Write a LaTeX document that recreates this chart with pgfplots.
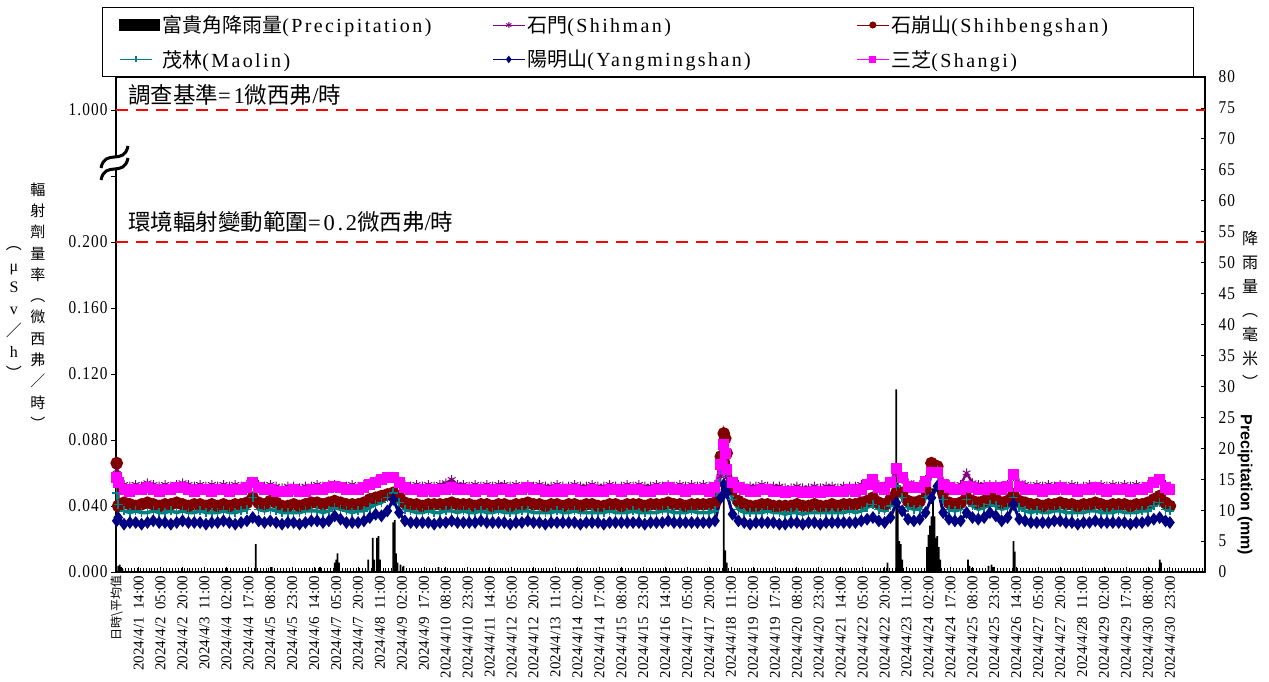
\documentclass[border=0pt]{standalone}
\usepackage{fontspec}
\setmainfont{Liberation Serif}
\newfontfamily\cjk{Noto Sans CJK TC}
\newfontfamily\ming{Liberation Serif}[LetterSpace=12]
\newfontfamily\narrow{Liberation Serif}[FakeStretch=0.85, LetterSpace=6]
\newfontfamily\arial{Liberation Sans}
\usepackage{pgfplots}
\usepackage{pgfplotstable}
\pgfplotsset{compat=1.18}

\newcommand{\fs}[1]{\fontsize{#1}{#1}\selectfont}
\newcommand{\fsb}[2]{\fontsize{#1}{#2}\selectfont}

\definecolor{cShihman}{RGB}{128,0,128}
\definecolor{cShihbeng}{RGB}{128,0,0}
\definecolor{cMaolin}{RGB}{0,128,128}
\definecolor{cYang}{RGB}{0,0,128}
\definecolor{cShangi}{RGB}{255,0,255}

% hourly dose rate (uSv/h), hour 0 = 2024/4/1 00:00, read every ~4 h
% S=Shihman B=Shihbengshan M=Maolin Y=Yangmingshan G=Shangi
\pgfplotstableread{
x S B M Y G
-1 0.062 0.066 0.048 0.031 0.057
0 0.056 0.040 0.041 0.033 0.054
4 0.053 0.042 0.037 0.029 0.050
8 0.052 0.041 0.036 0.030 0.049
12 0.053 0.040 0.037 0.030 0.050
16 0.052 0.041 0.036 0.029 0.050
20 0.054 0.042 0.036 0.030 0.051
24 0.053 0.041 0.037 0.031 0.050
28 0.052 0.040 0.036 0.030 0.049
32 0.053 0.041 0.036 0.030 0.050
36 0.052 0.041 0.037 0.029 0.050
40 0.053 0.042 0.036 0.030 0.051
44 0.054 0.041 0.037 0.031 0.051
48 0.053 0.040 0.036 0.030 0.050
52 0.052 0.041 0.036 0.030 0.049
56 0.053 0.041 0.037 0.030 0.050
60 0.052 0.040 0.036 0.029 0.050
64 0.053 0.041 0.036 0.030 0.049
68 0.052 0.040 0.036 0.030 0.050
72 0.053 0.041 0.037 0.031 0.050
76 0.052 0.040 0.036 0.030 0.049
80 0.053 0.041 0.036 0.029 0.050
84 0.052 0.041 0.037 0.030 0.050
88 0.053 0.042 0.038 0.031 0.051
92 0.055 0.045 0.045 0.033 0.054
96 0.053 0.042 0.038 0.031 0.051
100 0.052 0.041 0.037 0.030 0.050
104 0.053 0.043 0.038 0.031 0.050
108 0.052 0.042 0.037 0.030 0.049
112 0.051 0.040 0.036 0.029 0.049
116 0.052 0.040 0.036 0.030 0.049
120 0.052 0.041 0.036 0.030 0.050
124 0.051 0.040 0.036 0.029 0.049
128 0.052 0.041 0.037 0.030 0.049
132 0.052 0.042 0.037 0.031 0.050
136 0.053 0.042 0.037 0.031 0.050
140 0.052 0.041 0.036 0.030 0.050
144 0.053 0.042 0.037 0.031 0.051
148 0.053 0.043 0.039 0.034 0.052
152 0.052 0.042 0.038 0.032 0.051
156 0.052 0.041 0.037 0.030 0.050
160 0.053 0.041 0.036 0.030 0.050
164 0.052 0.041 0.037 0.030 0.050
168 0.053 0.042 0.037 0.031 0.051
172 0.054 0.044 0.039 0.033 0.053
176 0.055 0.045 0.041 0.035 0.054
180 0.056 0.046 0.042 0.034 0.056
184 0.057 0.047 0.045 0.037 0.057
188 0.058 0.048 0.048 0.044 0.057
192 0.055 0.046 0.042 0.036 0.054
196 0.053 0.042 0.038 0.031 0.051
200 0.052 0.041 0.037 0.030 0.050
204 0.053 0.041 0.036 0.030 0.050
208 0.052 0.040 0.036 0.030 0.049
212 0.053 0.041 0.037 0.030 0.050
216 0.052 0.041 0.036 0.029 0.049
220 0.053 0.041 0.036 0.030 0.050
224 0.054 0.041 0.037 0.030 0.050
228 0.056 0.042 0.037 0.031 0.051
232 0.053 0.041 0.036 0.030 0.050
236 0.053 0.041 0.037 0.030 0.050
240 0.052 0.041 0.036 0.030 0.050
244 0.053 0.040 0.036 0.030 0.049
248 0.052 0.041 0.037 0.031 0.050
252 0.053 0.041 0.036 0.030 0.050
256 0.052 0.040 0.036 0.030 0.049
260 0.053 0.041 0.037 0.030 0.050
264 0.053 0.041 0.036 0.030 0.050
268 0.052 0.040 0.036 0.029 0.049
272 0.053 0.041 0.036 0.030 0.050
276 0.052 0.041 0.037 0.030 0.050
280 0.053 0.042 0.037 0.031 0.051
284 0.052 0.041 0.036 0.030 0.050
288 0.053 0.041 0.036 0.030 0.050
292 0.052 0.040 0.036 0.029 0.049
296 0.052 0.041 0.036 0.030 0.049
300 0.053 0.041 0.037 0.030 0.050
304 0.052 0.040 0.036 0.030 0.049
308 0.052 0.041 0.036 0.030 0.050
312 0.053 0.041 0.037 0.030 0.050
316 0.052 0.040 0.036 0.029 0.049
320 0.052 0.041 0.036 0.030 0.049
324 0.053 0.041 0.036 0.030 0.050
328 0.052 0.040 0.036 0.030 0.049
332 0.052 0.040 0.036 0.029 0.049
336 0.053 0.041 0.037 0.030 0.050
340 0.052 0.041 0.036 0.030 0.050
344 0.052 0.040 0.036 0.030 0.049
348 0.053 0.041 0.036 0.030 0.050
352 0.052 0.041 0.037 0.030 0.050
356 0.053 0.041 0.036 0.030 0.050
360 0.052 0.040 0.036 0.029 0.049
364 0.052 0.041 0.036 0.030 0.049
368 0.053 0.041 0.036 0.030 0.050
372 0.052 0.041 0.037 0.030 0.050
376 0.053 0.042 0.037 0.031 0.051
380 0.052 0.041 0.036 0.030 0.050
384 0.053 0.041 0.036 0.030 0.050
388 0.052 0.040 0.036 0.030 0.049
392 0.053 0.041 0.037 0.030 0.050
396 0.052 0.041 0.036 0.030 0.050
400 0.053 0.041 0.036 0.030 0.050
404 0.052 0.041 0.036 0.030 0.049
408 0.053 0.042 0.037 0.031 0.051
412 0.058 0.070 0.062 0.045 0.065
414 0.062 0.084 0.074 0.053 0.077
415 0.060 0.081 0.070 0.050 0.072
416 0.057 0.072 0.060 0.048 0.062
420 0.055 0.050 0.044 0.035 0.054
424 0.053 0.043 0.038 0.031 0.051
428 0.052 0.041 0.036 0.030 0.050
432 0.052 0.040 0.036 0.029 0.049
436 0.052 0.040 0.036 0.030 0.049
440 0.053 0.041 0.036 0.030 0.050
444 0.052 0.041 0.037 0.030 0.050
448 0.052 0.040 0.036 0.030 0.049
452 0.052 0.040 0.036 0.029 0.049
456 0.051 0.040 0.035 0.029 0.048
460 0.051 0.040 0.036 0.030 0.049
464 0.052 0.041 0.036 0.030 0.049
468 0.051 0.040 0.035 0.029 0.048
472 0.051 0.040 0.036 0.030 0.048
476 0.052 0.041 0.036 0.030 0.049
480 0.051 0.040 0.036 0.029 0.048
484 0.052 0.040 0.036 0.030 0.049
488 0.052 0.041 0.036 0.030 0.049
492 0.051 0.040 0.036 0.030 0.049
496 0.052 0.041 0.036 0.030 0.049
500 0.052 0.041 0.037 0.030 0.050
504 0.052 0.041 0.036 0.030 0.049
508 0.053 0.042 0.037 0.031 0.050
512 0.054 0.043 0.039 0.032 0.053
516 0.056 0.045 0.041 0.033 0.056
520 0.053 0.042 0.038 0.031 0.051
524 0.052 0.041 0.037 0.030 0.050
528 0.054 0.044 0.040 0.033 0.054
532 0.060 0.048 0.052 0.042 0.063
536 0.056 0.048 0.045 0.037 0.057
540 0.054 0.043 0.039 0.032 0.052
544 0.053 0.042 0.038 0.031 0.051
548 0.053 0.043 0.038 0.032 0.051
552 0.056 0.050 0.045 0.036 0.055
556 0.062 0.066 0.060 0.045 0.060
560 0.060 0.064 0.062 0.052 0.060
564 0.055 0.048 0.044 0.036 0.053
568 0.053 0.042 0.038 0.032 0.051
572 0.052 0.041 0.037 0.031 0.050
576 0.053 0.042 0.038 0.031 0.050
580 0.060 0.045 0.044 0.036 0.052
584 0.054 0.043 0.040 0.033 0.051
588 0.053 0.042 0.038 0.032 0.050
592 0.053 0.043 0.039 0.033 0.050
596 0.053 0.045 0.041 0.036 0.051
600 0.053 0.044 0.040 0.034 0.051
604 0.052 0.042 0.038 0.031 0.050
608 0.053 0.043 0.039 0.033 0.052
612 0.058 0.047 0.045 0.041 0.059
616 0.054 0.043 0.039 0.032 0.052
620 0.053 0.042 0.037 0.031 0.050
624 0.052 0.041 0.036 0.030 0.050
628 0.053 0.041 0.037 0.030 0.050
632 0.052 0.040 0.036 0.030 0.049
636 0.053 0.041 0.036 0.030 0.050
640 0.052 0.041 0.037 0.031 0.050
644 0.053 0.042 0.037 0.031 0.051
648 0.052 0.041 0.036 0.030 0.050
652 0.053 0.041 0.036 0.030 0.050
656 0.052 0.040 0.036 0.029 0.049
660 0.052 0.041 0.036 0.030 0.050
664 0.053 0.041 0.037 0.030 0.050
668 0.052 0.042 0.037 0.031 0.051
672 0.053 0.041 0.036 0.030 0.050
676 0.052 0.040 0.036 0.030 0.049
680 0.053 0.041 0.036 0.030 0.050
684 0.052 0.041 0.037 0.030 0.050
688 0.053 0.041 0.036 0.030 0.050
692 0.052 0.040 0.036 0.029 0.049
696 0.053 0.041 0.036 0.030 0.050
700 0.052 0.041 0.037 0.030 0.050
704 0.053 0.042 0.037 0.031 0.051
708 0.055 0.044 0.040 0.032 0.054
712 0.056 0.046 0.042 0.033 0.056
716 0.053 0.042 0.038 0.031 0.051
719 0.052 0.040 0.037 0.030 0.050
}\radtab

% hourly rain at Fuguijiao (mm), only the hours with rain
\pgfplotstableread{
x R
0 1.0
1 1.2
2 0.8
3 0.5
94 4.5
105 0.8
138 0.8
148 1.5
149 2.0
150 3.0
151 1.5
171 2.0
174 5.5
175 2.0
177 5.5
178 5.8
179 2.0
188 8.0
189 8.4
190 3.0
191 1.5
193 1.2
195 1.0
219 0.8
414 12.0
415 3.5
416 1.5
526 1.5
532 29.5
533 17.5
534 5.0
535 4.5
536 2.0
553 4.0
554 6.0
555 7.5
556 9.0
557 13.5
558 9.0
559 5.5
560 5.8
561 4.0
562 2.0
581 2.0
582 1.0
595 1.0
597 1.2
598 0.8
612 5.0
613 3.3
712 2.0
713 1.5
}\raintab

\begin{document}
\begin{tikzpicture}

% rain, right axis
\begin{axis}[
    at={(0pt,0pt)}, anchor=south west,
    scale only axis, width=1089pt, height=495pt,
    xmin=-1.5, xmax=743, ymin=0, ymax=80,
    axis x line=none, axis y line*=right,
    axis line style={line width=1.2pt},
    tick align=inside, major tick length=4pt,
    tick style={black, line width=0.8pt},
    ytick={0,5,10,15,20,25,30,35,40,45,50,55,60,65,70,75,80},
    yticklabels={0,5,10,15,20,25,30,35,40,45,50,55,60,65,70,75,80},
    yticklabel style={font=\narrow\fs{18}, anchor=west, xshift=10pt},
]
\addplot[ybar, bar width=1.2, fill=black, draw=none] table[x=x, y=R] {\raintab};
\end{axis}

% dose rate, left axis (0.24 is the break, 0.28 stands for 1.000)
\begin{axis}[
    at={(0pt,0pt)}, anchor=south west,
    scale only axis, width=1089pt, height=495pt,
    xmin=-1.5, xmax=743, ymin=0, ymax=0.3,
    axis line style={line width=1.2pt},
    xtick pos=bottom, ytick pos=left,
    xtick align=inside, ytick align=outside,
    major tick length=5pt, minor tick length=4pt,
    tick style={black, line width=0.8pt},
    ytick={0,0.04,0.08,0.12,0.16,0.2,0.24,0.28},
    yticklabels={0.000,0.040,0.080,0.120,0.160,0.200,{},1.000},
    yticklabel style={font=\narrow\fs{18}},
    xtick={-1,14,...,719},
    minor xtick={1,3,...,741},
    xticklabels={
        {\cjk\fs{12}日時\textbackslash 平均值},
        2024/4/1\enspace 14:00, 2024/4/2\enspace 05:00, 2024/4/2\enspace 20:00,
        2024/4/3\enspace 11:00, 2024/4/4\enspace 02:00, 2024/4/4\enspace 17:00,
        2024/4/5\enspace 08:00, 2024/4/5\enspace 23:00, 2024/4/6\enspace 14:00,
        2024/4/7\enspace 05:00, 2024/4/7\enspace 20:00, 2024/4/8\enspace 11:00,
        2024/4/9\enspace 02:00, 2024/4/9\enspace 17:00, 2024/4/10\enspace 08:00,
        2024/4/10\enspace 23:00, 2024/4/11\enspace 14:00, 2024/4/12\enspace 05:00,
        2024/4/12\enspace 20:00, 2024/4/13\enspace 11:00, 2024/4/14\enspace 02:00,
        2024/4/14\enspace 17:00, 2024/4/15\enspace 08:00, 2024/4/15\enspace 23:00,
        2024/4/16\enspace 14:00, 2024/4/17\enspace 05:00, 2024/4/17\enspace 20:00,
        2024/4/18\enspace 11:00, 2024/4/19\enspace 02:00, 2024/4/19\enspace 17:00,
        2024/4/20\enspace 08:00, 2024/4/20\enspace 23:00, 2024/4/21\enspace 14:00,
        2024/4/22\enspace 05:00, 2024/4/22\enspace 20:00, 2024/4/23\enspace 11:00,
        2024/4/24\enspace 02:00, 2024/4/24\enspace 17:00, 2024/4/25\enspace 08:00,
        2024/4/25\enspace 23:00, 2024/4/26\enspace 14:00, 2024/4/27\enspace 05:00,
        2024/4/27\enspace 20:00, 2024/4/28\enspace 11:00, 2024/4/29\enspace 02:00,
        2024/4/29\enspace 17:00, 2024/4/30\enspace 08:00, 2024/4/30\enspace 23:00},
    xticklabel style={font=\fs{15}, rotate=90, anchor=east},
    legend columns=3,
    legend cell align=left,
    legend image code/.code={
        \draw[mark repeat=2, mark phase=2, #1, line width=1pt, mark size=3pt]
            plot coordinates {(0pt,0pt) (16pt,0pt) (32pt,0pt)};},
    legend style={at={(axis description cs:0,1)}, anchor=south west, xshift=-14pt,
        draw=black, line width=0.8pt, font=\fs{20},
        inner xsep=17pt, inner ysep=6pt, row sep=12pt,
        /tikz/every odd column/.append style={column sep=0pt},
        /tikz/every even column/.append style={column sep=0pt}},
]
\addlegendimage{legend image code/.code={\fill[black] (0pt,-5pt) rectangle (40pt,6pt);}}
\addlegendentry{\makebox[328pt][l]{{\cjk 富貴角降雨量}\ming(Precipitation)}}

\addplot[cShihman, line width=2.5pt, mark=asterisk, mark size=4.5pt,
    mark options={line width=1pt}] table[x=x, y=S] {\radtab};
\addlegendentry{\makebox[327pt][l]{{\cjk 石門}\ming(Shihman)}}
\addplot[cShihbeng, line width=3.5pt, mark=*, mark size=4.5pt] table[x=x, y=B] {\radtab};
\addlegendentry{\makebox[283pt][l]{{\cjk 石崩山}\ming(Shihbengshan)}}
\addplot[cMaolin, line width=3.5pt, mark=+, mark size=4.5pt,
    mark options={line width=1.5pt}] table[x=x, y=M] {\radtab};
\addlegendentry{\makebox[328pt][l]{{\cjk 茂林}\ming(Maolin)}}
\addplot[cYang, line width=3pt, mark=diamond*, mark size=4pt] table[x=x, y=Y] {\radtab};
\addlegendentry{\makebox[327pt][l]{{\cjk 陽明山}\ming(Yangmingshan)}}
\addplot[cShangi, line width=3pt, mark=square*, mark size=4pt] table[x=x, y=G] {\radtab};
\addlegendentry{\makebox[283pt][l]{{\cjk 三芝}\ming(Shangi)}}

% limits: 1 uSv/h (drawn at 0.28) and 0.2 uSv/h
\addplot[red, line width=2.5pt, dash pattern=on 12pt off 8pt, forget plot]
    coordinates {(-1.5,0.28) (743,0.28)};
\addplot[red, line width=2.5pt, dash pattern=on 12pt off 8pt, forget plot]
    coordinates {(-1.5,0.2) (743,0.2)};
\end{axis}

% axis break on the left axis
\begin{scope}[shift={(0pt,407pt)}]
  \fill[white] (-15pt,-3pt) .. controls (-11pt,17pt) and (8pt,-1pt) .. (12pt,19pt)
      -- (12pt,7pt) .. controls (8pt,-13pt) and (-11pt,5pt) .. (-15pt,-15pt) -- cycle;
  \draw[line width=3pt] (-15pt,-3pt) .. controls (-11pt,17pt) and (8pt,-1pt) .. (12pt,19pt);
  \draw[line width=3pt] (-15pt,-15pt) .. controls (-11pt,5pt) and (8pt,-13pt) .. (12pt,7pt);
\end{scope}

% reference-level notes
\node[anchor=west, inner sep=0pt, font=\fs{22.5}] at (12pt,477pt)
    {{\cjk 調查基準}{\ming =1}{\cjk 微西弗}{\ming /}{\cjk 時}};
\node[anchor=west, inner sep=0pt, font=\fs{22.5}] at (12pt,350pt)
    {{\cjk 環境輻射變動範圍}{\ming =0.2}{\cjk 微西弗}{\ming /}{\cjk 時}};

% axis titles, stacked vertically
\node[align=center, inner sep=0pt, font=\cjk\fsb{15}{21.3}] at (-78pt,266pt)
    {輻\\射\\劑\\量\\率\\︵\\微\\西\\弗\\／\\時\\︶};
\node[align=center, inner sep=0pt, font=\fsb{16}{21.6}] at (-102pt,259pt)
    {{\cjk ︵}\\μ\\S\\v\\{\cjk ／}\\h\\{\cjk ︶}};
\node[align=center, inner sep=0pt, font=\cjk\fsb{16}{24}] at (1134pt,262pt)
    {降\\雨\\量\\︵\\毫\\米\\︶};
\node[rotate=-90, inner sep=0pt, font=\arial\bfseries\fs{16}] at (1129pt,87pt)
    {Precipitation (mm)};

\pgfresetboundingbox
\useasboundingbox (-116pt,-110pt) rectangle (1153pt,572pt);
\end{tikzpicture}
\end{document}
